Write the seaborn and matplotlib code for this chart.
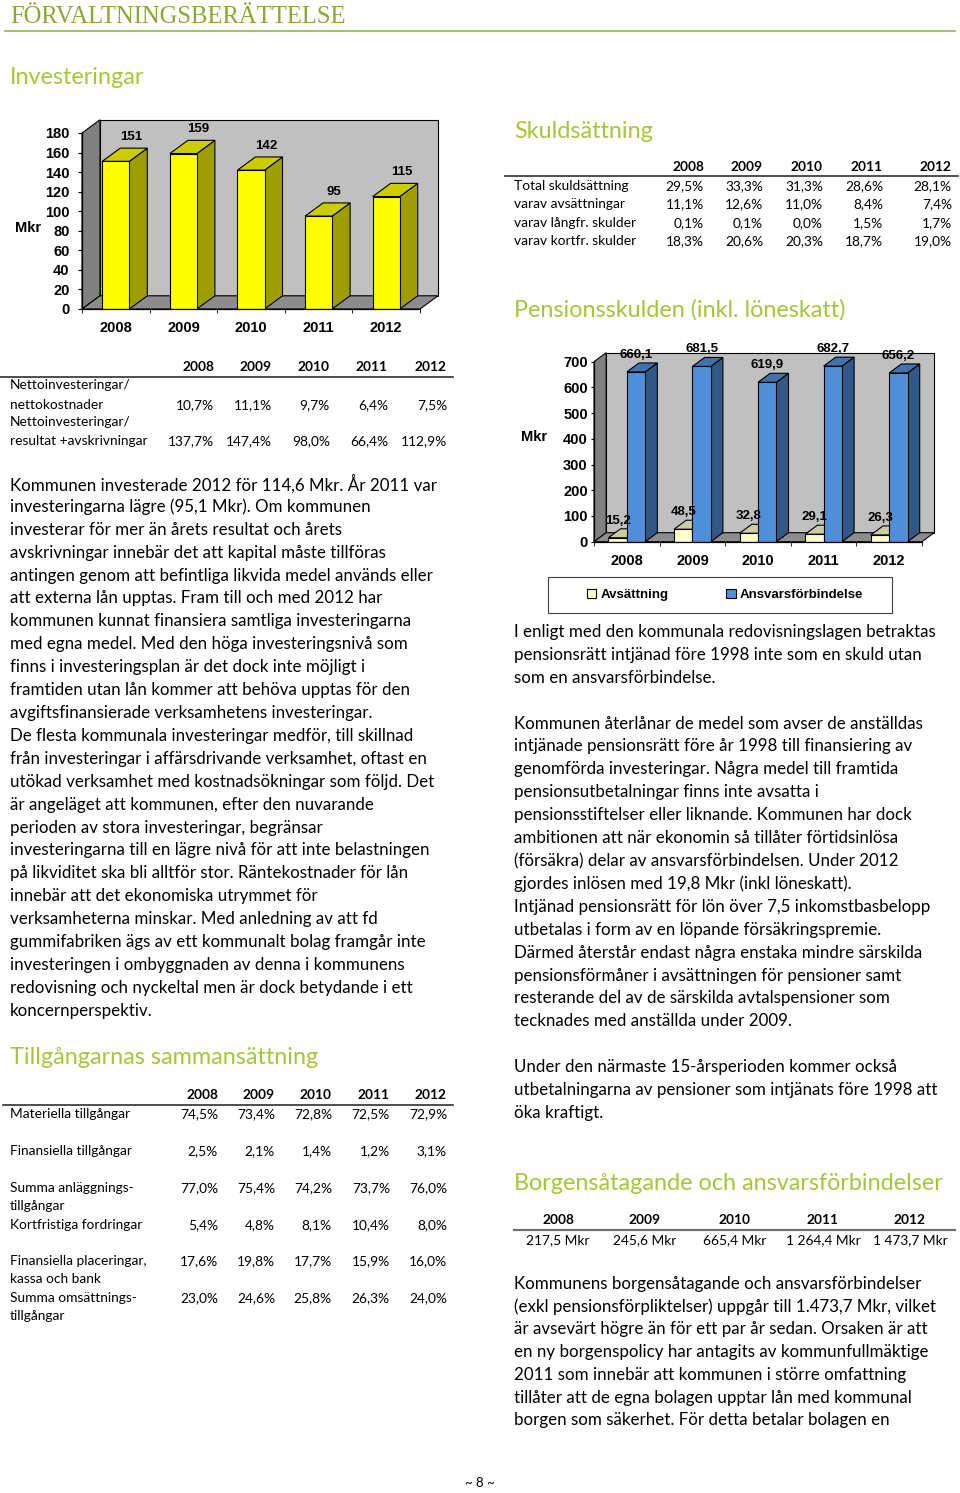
import numpy as np
import pandas as pd
import seaborn as sns
import matplotlib.pyplot as plt
from matplotlib.patches import Polygon, Rectangle
from matplotlib.lines import Line2D

W, H = 960, 1493

# --- data ---
years = ['2008', '2009', '2010', '2011', '2012']
invest_mkr = [151, 159, 142, 95, 115]
pens_avsattning = [15.2, 48.5, 32.8, 29.1, 26.3]
pens_ansvar = [660.1, 681.5, 619.9, 682.7, 656.2]

netto_kostn = ['10,7%', '11,1%', '9,7%', '6,4%', '7,5%']
netto_res = ['137,7%', '147,4%', '98,0%', '66,4%', '112,9%']

skuld_labels = ['Total skuldsättning', 'varav avsättningar', 'varav långfr. skulder', 'varav kortfr. skulder']
skuld_total = ['29,5%', '33,3%', '31,3%', '28,6%', '28,1%']
skuld_avs = ['11,1%', '12,6%', '11,0%', '8,4%', '7,4%']
skuld_lang = ['0,1%', '0,1%', '0,0%', '1,5%', '1,7%']
skuld_kort = ['18,3%', '20,6%', '20,3%', '18,7%', '19,0%']

tillg_materiella = ['74,5%', '73,4%', '72,8%', '72,5%', '72,9%']
tillg_finansiella = ['2,5%', '2,1%', '1,4%', '1,2%', '3,1%']
tillg_summa_anl = ['77,0%', '75,4%', '74,2%', '73,7%', '76,0%']
tillg_kortfr = ['5,4%', '4,8%', '8,1%', '10,4%', '8,0%']
tillg_plac = ['17,6%', '19,8%', '17,7%', '15,9%', '16,0%']
tillg_summa_oms = ['23,0%', '24,6%', '25,8%', '26,3%', '24,0%']

borgen = ['217,5 Mkr', '245,6 Mkr', '665,4 Mkr', '1 264,4 Mkr', '1 473,7 Mkr']

text_invest = [
    "Kommunen investerade 2012 för 114,6 Mkr. År 2011 var",
    "investeringarna lägre (95,1 Mkr). Om kommunen",
    "investerar för mer än årets resultat och årets",
    "avskrivningar innebär det att kapital måste tillföras",
    "antingen genom att befintliga likvida medel används eller",
    "att externa lån upptas. Fram till och med 2012 har",
    "kommunen kunnat finansiera samtliga investeringarna",
    "med egna medel. Med den höga investeringsnivå som",
    "finns i investeringsplan är det dock inte möjligt i",
    "framtiden utan lån kommer att behöva upptas för den",
    "avgiftsfinansierade verksamhetens investeringar.",
    "De flesta kommunala investeringar medför, till skillnad",
    "från investeringar i affärsdrivande verksamhet, oftast en",
    "utökad verksamhet med kostnadsökningar som följd. Det",
    "är angeläget att kommunen, efter den nuvarande",
    "perioden av stora investeringar, begränsar",
    "investeringarna till en lägre nivå för att inte belastningen",
    "på likviditet ska bli alltför stor. Räntekostnader för lån",
    "innebär att det ekonomiska utrymmet för",
    "verksamheterna minskar. Med anledning av att fd",
    "gummifabriken ägs av ett kommunalt bolag framgår inte",
    "investeringen i ombyggnaden av denna i kommunens",
    "redovisning och nyckeltal men är dock betydande i ett",
    "koncernperspektiv.",
]
text_pension = [
    "I enligt med den kommunala redovisningslagen betraktas",
    "pensionsrätt intjänad före 1998 inte som en skuld utan",
    "som en ansvarsförbindelse.",
    "",
    "Kommunen återlånar de medel som avser de anställdas",
    "intjänade pensionsrätt före år 1998 till finansiering av",
    "genomförda investeringar. Några medel till framtida",
    "pensionsutbetalningar finns inte avsatta i",
    "pensionsstiftelser eller liknande. Kommunen har dock",
    "ambitionen att när ekonomin så tillåter förtidsinlösa",
    "(försäkra) delar av ansvarsförbindelsen. Under 2012",
    "gjordes inlösen med 19,8 Mkr (inkl löneskatt).",
    "Intjänad pensionsrätt för lön över 7,5 inkomstbasbelopp",
    "utbetalas i form av en löpande försäkringspremie.",
    "Därmed återstår endast några enstaka mindre särskilda",
    "pensionsförmåner i avsättningen för pensioner samt",
    "resterande del av de särskilda avtalspensioner som",
    "tecknades med anställda under 2009.",
    "",
    "Under den närmaste 15-årsperioden kommer också",
    "utbetalningarna av pensioner som intjänats före 1998 att",
    "öka kraftigt.",
]
text_borgen = [
    "Kommunens borgensåtagande och ansvarsförbindelser",
    "(exkl pensionsförpliktelser) uppgår till 1.473,7 Mkr, vilket",
    "är avsevärt högre än för ett par år sedan. Orsaken är att",
    "en ny borgenspolicy har antagits av kommunfullmäktige",
    "2011 som innebär att kommunen i större omfattning",
    "tillåter att de egna bolagen upptar lån med kommunal",
    "borgen som säkerhet. För detta betalar bolagen en",
]

plt.rcParams['font.family'] = ['Lato', 'DejaVu Sans']
GREEN = '#A6C63A'
BODY = 12.2
TAB = 9.9
CHART_FONT = 'Liberation Sans'

fig = plt.figure(figsize=(W / 100, H / 100), dpi=100)


def txt(x, y, s, **kw):
    kw.setdefault('va', 'center')
    fig.text(x / W, 1 - y / H, s, **kw)


def hline(x0, x1, y, color='#404040', lw=1.0):
    fig.add_artist(Line2D([x0 / W, x1 / W], [1 - y / H, 1 - y / H], color=color, lw=lw))


def axes_px(x0, x1, ybot, ytop):
    return fig.add_axes([x0 / W, 1 - ybot / H, (x1 - x0) / W, (ybot - ytop) / H])


def shade(c, f):
    r, g, b = plt.matplotlib.colors.to_rgb(c)
    return (r * f, g * f, b * f)


def bars3d(ax, dx, dy):
    # side and top faces from the bars seaborn drew
    for p in list(ax.patches):
        x, w, h = p.get_x(), p.get_width(), p.get_height()
        fc = p.get_facecolor()
        kw = dict(ec='black', lw=0.8, zorder=1.5, clip_on=False)
        ax.add_patch(Polygon([(x + w, 0), (x + w + dx, dy), (x + w + dx, h + dy), (x + w, h)],
                             fc=shade(fc, 0.62), **kw))
        ax.add_patch(Polygon([(x, h), (x + w, h), (x + w + dx, h + dy), (x + dx, h + dy)],
                             fc=shade(fc, 0.8), **kw))


def box3d(ax, dx, dy, ymax):
    x0, x1 = -0.5, 4.5
    kw = dict(ec='black', lw=0.8, clip_on=False, zorder=0.5)
    ax.add_patch(Rectangle((x0 + dx, dy), x1 - x0, ymax, fc='#C0C0C0', **kw))
    ax.add_patch(Polygon([(x0, 0), (x0 + dx, dy), (x0 + dx, ymax + dy), (x0, ymax)], fc='#808080', **kw))
    ax.add_patch(Polygon([(x0, 0), (x1, 0), (x1 + dx, dy), (x0 + dx, dy)], fc='#8C8C8C', **kw))


def style_axes(ax, ymax, step, ypad, xpad, ylen):
    ax.set_xlim(-0.5, 4.5)
    ax.set_ylim(0, ymax)
    ax.set_facecolor('none')
    for s in ['top', 'right']:
        ax.spines[s].set_visible(False)
    for s in ['left', 'bottom']:
        ax.spines[s].set_color('black')
        ax.spines[s].set_linewidth(0.9)
    ax.set_yticks(np.arange(0, ymax + 1, step))
    ax.set_xticks(range(5), years)
    ax.set_xticks(np.arange(-0.5, 5, 1), minor=True)
    ax.tick_params(axis='y', length=ylen, pad=ypad, labelsize=10.5)
    ax.tick_params(axis='x', which='major', length=0, pad=xpad, labelsize=10.5)
    ax.tick_params(axis='x', which='minor', length=3)
    for lbl in ax.get_xticklabels() + ax.get_yticklabels():
        lbl.set_fontfamily(CHART_FONT)
        lbl.set_fontweight('bold')
    ax.set_xlabel('')
    ax.set_ylabel('')


# --- header ---
txt(10, 23, 'FÖRVALTNINGSBERÄTTELSE', va='baseline', family='Liberation Serif',
    fontsize=17.7, color='#8AA832')
hline(5, 955, 31, color='#A9C45A', lw=1.5)

# --- headings ---
for x, y, s in [(10, 78, 'Investeringar'), (514, 131, 'Skuldsättning'),
                (514, 310, 'Pensionsskulden (inkl. löneskatt)'),
                (10, 1058, 'Tillgångarnas sammansättning'),
                (514, 1184, 'Borgensåtagande och ansvarsförbindelser')]:
    txt(x, y, s, fontsize=16.8, color=GREEN)

# --- chart 1: Investeringar ---
ax1 = axes_px(82, 420, 309, 133)
sns.barplot(x=years, y=invest_mkr, color='#FFFF00', saturation=1, width=0.4,
            edgecolor='black', linewidth=0.8, errorbar=None, ax=ax1, zorder=2)
dx1, dy1 = 0.266, 13.5
bars3d(ax1, dx1, dy1)
box3d(ax1, dx1, dy1, 180)
style_axes(ax1, 180, 20, 6, 9, 3)
for i, v in enumerate(invest_mkr):
    ax1.annotate(str(v), (i, v), xytext=(11, 13), textcoords='offset points', ha='center',
                 va='bottom', fontsize=9.5, fontweight='bold', family=CHART_FONT, zorder=5)
txt(28, 228, 'Mkr', ha='center', fontsize=10.5, fontweight='bold', family=CHART_FONT)

# --- tabell investeringar ---
col1 = [214, 272, 330, 388, 447]
for x, yr in zip(col1, years):
    txt(x, 367, yr, ha='right', fontsize=TAB, fontweight='bold')
hline(0, 453, 377, color='#303030', lw=1.2)
txt(10, 385, 'Nettoinvesteringar/', fontsize=TAB)
txt(10, 405, 'nettokostnader', fontsize=TAB)
txt(10, 422, 'Nettoinvesteringar/', fontsize=TAB)
txt(10, 441, 'resultat +avskrivningar', fontsize=TAB)
for x, a, b in zip(col1, netto_kostn, netto_res):
    txt(x, 405, a, ha='right', fontsize=TAB)
    txt(x, 441, b, ha='right', fontsize=TAB)

for i, line in enumerate(text_invest):
    txt(10, 484 + i * 22.9, line, fontsize=BODY)

# --- tabell tillgångar ---
col3 = [218, 275, 332, 390, 447]
for x, yr in zip(col3, years):
    txt(x, 1095, yr, ha='right', fontsize=TAB, fontweight='bold')
hline(3, 453, 1105, color='#303030', lw=1.2)
tillg_rows = [
    (1114, ['Materiella tillgångar'], tillg_materiella),
    (1151, ['Finansiella tillgångar'], tillg_finansiella),
    (1188, ['Summa anläggnings-', 'tillgångar'], tillg_summa_anl),
    (1225, ['Kortfristiga fordringar'], tillg_kortfr),
    (1261, ['Finansiella placeringar,', 'kassa och bank'], tillg_plac),
    (1298, ['Summa omsättnings-', 'tillgångar'], tillg_summa_oms),
]
for y, labels, vals in tillg_rows:
    for j, lab in enumerate(labels):
        txt(10, y + j * 18.3, lab, fontsize=TAB)
    for x, v in zip(col3, vals):
        txt(x, y, v, ha='right', fontsize=TAB)

# --- tabell skuldsättning ---
col2 = [704, 763, 823, 883, 952]
for x, yr in zip(col2, years):
    txt(x, 167, yr, ha='right', fontsize=TAB, fontweight='bold')
hline(505, 958, 176, color='#303030', lw=1.2)
for y, lab, vals in zip([186, 204, 223, 241], skuld_labels,
                        [skuld_total, skuld_avs, skuld_lang, skuld_kort]):
    txt(514, y, lab, fontsize=TAB)
    for x, v in zip(col2, vals):
        txt(x, y, v, ha='right', fontsize=TAB)

# --- chart 2: Pensionsskulden ---
pens_df = pd.DataFrame({
    'year': years * 2,
    'value': pens_avsattning + pens_ansvar,
    'typ': ['Avsättning'] * 5 + ['Ansvarsförbindelse'] * 5,
})
pal = {'Avsättning': '#FFFFCC', 'Ansvarsförbindelse': '#4F8FD9'}
ax2 = axes_px(594, 922, 541.7, 361.7)
sns.barplot(data=pens_df, x='year', y='value', hue='typ', palette=pal, saturation=1,
            width=0.56, gap=0, edgecolor='black', linewidth=0.8, errorbar=None,
            legend=False, ax=ax2, zorder=2)
dx2, dy2 = 0.185, 35
bars3d(ax2, dx2, dy2)
box3d(ax2, dx2, dy2, 700)
style_axes(ax2, 700, 100, 2.5, 9, 2)
for k, vals in enumerate([pens_avsattning, pens_ansvar]):
    for i, v in enumerate(vals):
        xc = i + (k - 0.5) * 0.28
        ax2.annotate(f'{v:.1f}'.replace('.', ','), (xc, v), xytext=(0, 8), textcoords='offset points',
                     ha='center', va='bottom', fontsize=9.5, fontweight='bold', family=CHART_FONT, zorder=5)
txt(534, 437, 'Mkr', ha='center', fontsize=10.5, fontweight='bold', family=CHART_FONT)

fig.add_artist(Rectangle((548 / W, 1 - 613 / H), 344 / W, 36 / H, transform=fig.transFigure,
                         fc='white', ec='#404040', lw=0.8))
handles = [Rectangle((0, 0), 1, 1, fc=pal[k], ec='black', lw=0.8) for k in pal]
fig.legend(handles, list(pal), loc='center', bbox_to_anchor=(725 / W, 1 - 595 / H), ncol=2,
           frameon=False, prop=dict(family=CHART_FONT, weight='bold', size=9.5),
           handlelength=0.7, handleheight=0.7, handletextpad=0.3, columnspacing=4.4)

for i, line in enumerate(text_pension):
    if line:
        txt(514, 632 + i * 22.9, line, fontsize=BODY)

# --- borgen ---
col4 = [558, 645, 735, 823, 910]
for x, yr, v in zip(col4, years, borgen):
    txt(x, 1220, yr, ha='center', fontsize=TAB, fontweight='bold')
    txt(x, 1240, v, ha='center', fontsize=TAB)
hline(514, 955, 1230, color='#707070', lw=1.6)

for i, line in enumerate(text_borgen):
    txt(514, 1284 + i * 22.7, line, fontsize=BODY)

txt(480, 1483, '~ 8 ~', ha='center', fontsize=9.5)

fig.savefig('out.png', dpi=100)
